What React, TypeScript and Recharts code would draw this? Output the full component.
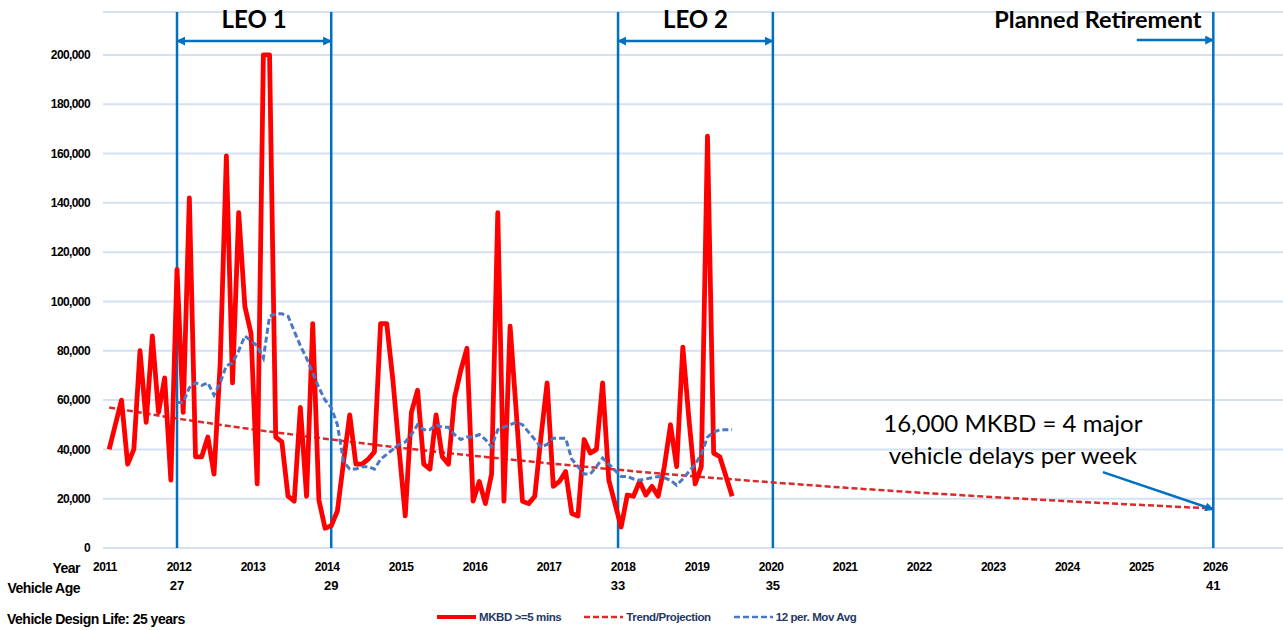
import React from 'react';
import { LineChart, Line, XAxis, YAxis, CartesianGrid, ReferenceLine, ReferenceDot } from 'recharts';

// ---- data (x = month index, 0 = Jan 2011) ----
const yearTicks = [0, 12, 24, 36, 48, 60, 72, 84, 96, 108, 120, 132, 144, 156, 168, 180];
const yearLabels = ['2011', '2012', '2013', '2014', '2015', '2016', '2017', '2018', '2019', '2020', '2021', '2022', '2023', '2024', '2025', '2026'];
const yTicks = [0, 20000, 40000, 60000, 80000, 100000, 120000, 140000, 160000, 180000, 200000];

const mkbdStartMonth = 1;
const mkbdValues = [
  40000, 50000, 60000, 34000, 40000, 80000, 51000, 86000, 55000, 69000, 27500, 113000,
  55000, 142000, 37000, 37000, 45000, 30000, 75000, 159000, 67000, 136000, 98000, 87000,
  26000, 200000, 200000, 45000, 43000, 21000, 19000, 57000, 21000, 91000, 19500, 8000,
  9000, 15000, 35000, 54000, 34000, 34000, 36000, 39000, 91000, 91000, 68000, 40000,
  13000, 55000, 64000, 34000, 32000, 54000, 37000, 34000, 61000, 72000, 81000, 19000,
  27000, 18000, 30000, 136000, 19000, 90000, 55000, 19000, 18000, 21000, 45000, 67000,
  25000, 27000, 31000, 14000, 13000, 44000, 38500, 40000, 67000, 27500, 18000, 8500,
  21500, 21000, 27000, 21500, 25000, 21000, 33000, 50000, 33000, 81500, 52000, 26000,
  33000, 167000, 38500, 37000, 29000, 21000,
];

const movAvgStartMonth = 12;
const movAvgValues = [
  59000, 59000, 65000, 67000, 66000, 67000, 62000, 67000, 74000, 75000, 80000, 86000,
  84000, 82000, 77000, 94000, 95000, 95000, 94000, 88000, 82000, 77000, 71000, 65000,
  60000, 57000, 50000, 35000, 32000, 32000, 33000, 33000, 32000, 36000, 38000, 40000,
  42000, 43000, 46000, 50000, 48000, 48000, 50000, 49000, 49000, 46000, 44000, 45000,
  45000, 46000, 44000, 41000, 48000, 49000, 50000, 51000, 50000, 47000, 44000, 41000,
  42000, 44500, 44500, 44500, 36000, 33000, 30000, 30000, 33000, 36500, 34000, 31500,
  29000, 29000, 28000, 27500, 28000, 28500, 29000, 28500, 27500, 25500, 28000, 31000,
  34000, 38000, 45000, 47000, 48000, 48000, 48000,
];

const trendMonths = [1, 12, 24, 36, 48, 60, 72, 84, 96, 108, 120, 132, 144, 156, 168, 180];
const trendValues = [57000, 52500, 48200, 44300, 40700, 37400, 34400, 31600, 29000, 26700, 24500, 22500, 20700, 19000, 17500, 16000];

const markerMonths = [12, 37, 83.5, 108.6, 180];
const markerAges = ['27', '29', '33', '35', '41'];

const leoSpans = [
  { label: 'LEO 1', from: 12, to: 37 },
  { label: 'LEO 2', from: 83.5, to: 108.6 },
];
const retirement = { label: 'Planned Retirement', from: 167.6, to: 180, textX: 161.3 };
const note = { line1: '16,000 MKBD = 4 major', line2: 'vehicle delays per week', x: 147.5, y1: 50700, y2: 37700, arrowFrom: { x: 162.1, y: 30800 }, arrowTo: { x: 180, y: 15600 } };

const mkbdData = mkbdValues.map((v, i) => ({ t: mkbdStartMonth + i, v }));
const movAvgData = movAvgValues.map((v, i) => ({ t: movAvgStartMonth + i, v }));
const trendData = trendMonths.map((t, i) => ({ t, v: trendValues[i] }));

const RED = '#FF0000';
const TREND = '#D92B2B';
const MA = '#4A78C2';
const VLINE = '#0070C0';
const GRID = '#D5E1F2';
const LEG_TEXT = '#1F3864';
const TICK_FONT = "'Liberation Sans', Arial, sans-serif";
const BIG_FONT = "Lato, 'Open Sans', sans-serif";

const fmt = (v: number) => v.toLocaleString('en-US');

const YearTick = (props: any) => {
  const { x, y, payload, index } = props;
  const label = yearLabels[yearTicks.indexOf(payload.value)] ?? '';
  return (
    <g>
      <text x={x + 2} y={y} textAnchor="middle" dominantBaseline="central" fontFamily={TICK_FONT} fontWeight="bold" fontSize={12} letterSpacing={-0.5} fill="#000">
        {label}
      </text>
      {index === 0 && (
        <>
          <text x={x - 23} y={y + 1} textAnchor="end" dominantBaseline="central" fontFamily={TICK_FONT} fontWeight="bold" fontSize={14} letterSpacing={-0.5} fill="#000">Year</text>
          <text x={x - 23} y={y + 21} textAnchor="end" dominantBaseline="central" fontFamily={TICK_FONT} fontWeight="bold" fontSize={14} letterSpacing={-0.5} fill="#000">Vehicle Age</text>
        </>
      )}
    </g>
  );
};

const legendItems = [
  { name: 'MKBD >=5 mins', color: RED, width: 4, dash: undefined as string | undefined },
  { name: 'Trend/Projection', color: TREND, width: 2.5, dash: '6 3' },
  { name: '12 per. Mov Avg', color: MA, width: 2.5, dash: '6 3' },
];

export default function App() {
  return (
    <div style={{ position: 'absolute', left: 0, top: 0, width: 1283, height: 630, background: '#fff' }}>
      <svg width={0} height={0} style={{ position: 'absolute' }}>
        <defs>
          <marker id="arrowHead" viewBox="0 0 10 10" refX={9} refY={5} markerWidth={9} markerHeight={9} markerUnits="userSpaceOnUse" orient="auto-start-reverse">
            <path d="M0,0 L10,5 L0,10 z" fill={VLINE} />
          </marker>
        </defs>
      </svg>
      <LineChart width={1283} height={630} margin={{ top: 12, right: 0, bottom: 0, left: 0 }}>
        <CartesianGrid vertical={false} stroke={GRID} strokeWidth={2} />
        <XAxis
          type="number"
          dataKey="t"
          domain={[0, 191.3]}
          ticks={yearTicks}
          interval={0}
          axisLine={false}
          tickLine={false}
          tickSize={0}
          tickMargin={19}
          height={82}
          tick={<YearTick />}
          allowDataOverflow
        />
        <YAxis
          type="number"
          domain={[0, 217400]}
          ticks={yTicks}
          interval={0}
          width={103}
          axisLine={false}
          tickLine={false}
          tickSize={0}
          tickMargin={13}
          tickFormatter={fmt}
          tick={{ fontFamily: TICK_FONT, fontWeight: 'bold', fontSize: 12, fill: '#000', letterSpacing: -0.6 }}
          allowDataOverflow
        />
        {markerMonths.map((m, i) => (
          <ReferenceLine
            key={'v' + i}
            x={m}
            stroke={VLINE}
            strokeWidth={2.5}
            label={{ value: markerAges[i], position: 'bottom', offset: 33, fill: '#000', fontSize: 13, fontWeight: 'bold', fontFamily: TICK_FONT }}
          />
        ))}
        <Line data={trendData} dataKey="v" type="linear" stroke={TREND} strokeWidth={2.5} strokeDasharray="6 3" dot={false} isAnimationActive={false} />
        <Line data={mkbdData} dataKey="v" type="linear" stroke={RED} strokeWidth={4.8} strokeLinejoin="round" dot={false} isAnimationActive={false} />
        <Line data={movAvgData} dataKey="v" type="linear" stroke={MA} strokeWidth={3} strokeDasharray="6 3" dot={false} isAnimationActive={false} />
        {leoSpans.map((s) => (
          <ReferenceLine
            key={s.label}
            segment={[{ x: s.from, y: 205600 }, { x: s.to, y: 205600 }]}
            stroke={VLINE}
            strokeWidth={2.5}
            markerStart="url(#arrowHead)"
            markerEnd="url(#arrowHead)"
          />
        ))}
        {leoSpans.map((s) => (
          <ReferenceDot key={s.label + 't'} x={(s.from + s.to) / 2} y={214200} r={0} fill="none" stroke="none"
            label={{ value: s.label, position: 'center', fill: '#000', fontSize: 24, fontWeight: 'bold', fontFamily: BIG_FONT }} />
        ))}
        <ReferenceLine
          segment={[{ x: retirement.from, y: 206000 }, { x: retirement.to, y: 206000 }]}
          stroke={VLINE}
          strokeWidth={2.5}
          markerEnd="url(#arrowHead)"
        />
        <ReferenceDot x={retirement.textX} y={214200} r={0} fill="none" stroke="none"
          label={{ value: retirement.label, position: 'center', fill: '#000', fontSize: 23.5, fontWeight: 'bold', fontFamily: BIG_FONT }} />
        <ReferenceDot x={note.x} y={note.y1} r={0} fill="none" stroke="none"
          label={{ value: note.line1, position: 'center', fill: '#000', fontSize: 24, fontFamily: BIG_FONT }} />
        <ReferenceDot x={note.x} y={note.y2} r={0} fill="none" stroke="none"
          label={{ value: note.line2, position: 'center', fill: '#000', fontSize: 24, fontFamily: BIG_FONT }} />
        <ReferenceLine
          segment={[note.arrowFrom, note.arrowTo]}
          stroke={VLINE}
          strokeWidth={2.5}
          markerEnd="url(#arrowHead)"
        />
      </LineChart>
      <div style={{ position: 'absolute', left: 7, top: 611, fontFamily: TICK_FONT, fontWeight: 'bold', fontSize: 14, letterSpacing: -0.5, color: '#000' }}>
        Vehicle Design Life: 25 years
      </div>
      <div style={{ position: 'absolute', left: 437, top: 610, display: 'flex', alignItems: 'center', gap: 23, fontFamily: TICK_FONT, fontWeight: 'bold', fontSize: 11.5, letterSpacing: -0.4, color: LEG_TEXT }}>
        {legendItems.map((it) => (
          <div key={it.name} style={{ display: 'flex', alignItems: 'center', gap: 3 }}>
            <svg width={39} height={14}>
              <line x1={0} y1={7} x2={39} y2={7} stroke={it.color} strokeWidth={it.width} strokeDasharray={it.dash} />
            </svg>
            <span>{it.name}</span>
          </div>
        ))}
      </div>
    </div>
  );
}
